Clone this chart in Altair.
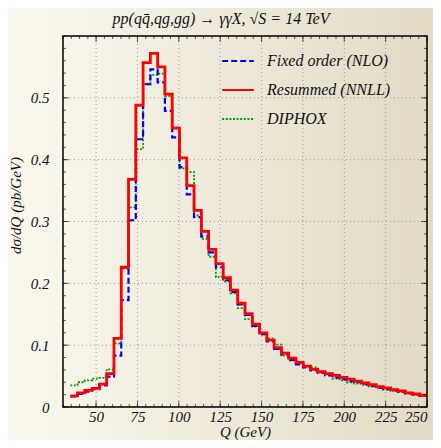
import altair as alt
import pandas as pd

FONT = "Liberation Serif"

# ---- data ----
q_edges = [34.4, 38.8, 43.2, 47.6, 52.0, 56.4, 60.8, 65.2, 69.6, 74.0,
           78.4, 82.8, 87.2, 91.6, 96.0, 100.4, 104.8, 109.2, 113.6, 118.0,
           122.4, 126.8, 131.2, 135.6, 140.0, 144.4, 148.8, 153.2, 157.6, 162.0,
           166.4, 170.8, 175.2, 179.6, 184.0, 188.4, 192.8, 197.2, 201.6, 206.0,
           210.4, 214.8, 219.2, 223.6, 228.0, 232.4, 236.8, 241.2, 245.6, 250.0]

nlo = [0.017, 0.021, 0.025, 0.029, 0.035, 0.049, 0.083, 0.173, 0.302, 0.433,
       0.522, 0.546, 0.525, 0.479, 0.436, 0.388, 0.344, 0.307, 0.276, 0.250,
       0.226, 0.205, 0.186, 0.166, 0.149, 0.131, 0.118, 0.106, 0.094, 0.085,
       0.076, 0.069, 0.064, 0.059, 0.055, 0.051, 0.048, 0.045, 0.042, 0.040,
       0.037, 0.034, 0.031, 0.029, 0.027, 0.025, 0.022, 0.020, 0.018]

nnll = [0.018, 0.023, 0.027, 0.030, 0.037, 0.054, 0.111, 0.226, 0.368, 0.488,
        0.557, 0.572, 0.550, 0.506, 0.451, 0.403, 0.358, 0.318, 0.284, 0.255,
        0.232, 0.209, 0.189, 0.168, 0.151, 0.134, 0.120, 0.108, 0.096, 0.087,
        0.079, 0.072, 0.066, 0.061, 0.057, 0.054, 0.051, 0.048, 0.045, 0.042,
        0.039, 0.036, 0.033, 0.031, 0.028, 0.026, 0.023, 0.021, 0.019]

diphox = [0.035, 0.040, 0.043, 0.046, 0.047, 0.061, 0.103, 0.224, 0.323, 0.417,
          0.523, 0.537, 0.539, 0.503, 0.452, 0.386, 0.380, 0.310, 0.272, 0.243,
          0.210, 0.203, 0.184, 0.160, 0.142, 0.130, 0.117, 0.111, 0.101, 0.083,
          0.075, 0.072, 0.066, 0.064, 0.057, 0.053, 0.046, 0.043, 0.040, 0.038,
          0.036, 0.033, 0.031, 0.028, 0.026, 0.024, 0.022, 0.020, 0.018]

series_names = ["Fixed order (NLO)", "Resummed (NNLL)", "DIPHOX"]
series_colors = ["#0000ff", "#ff0000", "#00a000"]
series_dash = [[6, 3], [1, 0], [2, 1.6]]

x_major = [50, 75, 100, 125, 150, 175, 200, 225, 250]
y_major = [0, 0.1, 0.2, 0.3, 0.4, 0.5]
x_minor = list(range(30, 251, 5))
y_minor = [round(0.02 * i, 2) for i in range(31)]

rows = []
for name, vals in zip(series_names, [nlo, nnll, diphox]):
    for i, v in enumerate(vals):
        rows.append({"Q": q_edges[i], "val": v, "series": name})
    rows.append({"Q": q_edges[len(vals)], "val": vals[-1], "series": name})
df = pd.DataFrame(rows)

xs = alt.Scale(domain=[30, 250], nice=False, zero=False)
ys = alt.Scale(domain=[0, 0.6], nice=False, zero=False)

x_axis = alt.Axis(values=x_major, title="Q (GeV)", grid=False, ticks=False, domain=False,
                  labelFont=FONT, labelFontStyle="italic", labelFontSize=15, labelColor="#111",
                  labelPadding=2, labelFlush=True, labelOverlap=False,
                  titleFont=FONT, titleFontStyle="italic", titleFontSize=15,
                  titleFontWeight="normal", titleColor="#111", titleY=29,
                  titleBaseline="alphabetic", zindex=1)
y_axis = alt.Axis(values=y_major, title="dσ/dQ (pb/GeV)", grid=False, ticks=False, domain=False,
                  labelExpr="datum.value == 0 ? '0' : format(datum.value, '.1f')",
                  labelFont=FONT, labelFontStyle="italic", labelFontSize=15, labelColor="#111",
                  labelPadding=14,
                  titleFont=FONT, titleFontStyle="italic", titleFontSize=15,
                  titleFontWeight="normal", titleColor="#111", titleX=-40, titleY=169, zindex=1)

leg = alt.Legend(title=None, orient="none", legendX=158, legendY=8, symbolType="stroke",
                 symbolSize=1000, symbolStrokeWidth=2, labelFont=FONT, labelFontStyle="italic",
                 labelFontSize=16, labelColor="#111", labelOffset=12, rowPadding=4, labelLimit=300,
                 zindex=1)

color_enc = alt.Color("series:N", scale=alt.Scale(domain=series_names, range=series_colors), legend=leg)
dash_enc = alt.StrokeDash("series:N", scale=alt.Scale(domain=series_names, range=series_dash), legend=leg)


def X(field):
    return alt.X(field, scale=xs, axis=x_axis)


def Y(field):
    return alt.Y(field, scale=ys, axis=y_axis)


def line_layer(name, width):
    return alt.Chart(df).transform_filter(alt.datum.series == name).mark_line(
        interpolate="step-after", strokeWidth=width
    ).encode(x=X("Q:Q"), y=Y("val:Q"), color=color_enc, strokeDash=dash_enc)


one = pd.DataFrame({"k": [0]})
# decorative page background with a light horizontal gradient (pixel extent of the whole figure)
bg = alt.Chart(one).mark_rect(
    fill=alt.LinearGradient(gradient="linear",
                            stops=[alt.GradientStop(color="#faf8ee", offset=0),
                                   alt.GradientStop(color="#e2dac5", offset=1)],
                            x1=0, x2=1, y1=0, y2=0)
).encode(x=alt.value(-55), x2=alt.value(370), y=alt.value(-28), y2=alt.value(404))

grid_x = alt.Chart(pd.DataFrame({"Q": x_major})).mark_rule(
    strokeDash=[1, 3], color="#9a9a9a", strokeWidth=1
).encode(x=X("Q:Q"))
grid_y = alt.Chart(pd.DataFrame({"val": y_major})).mark_rule(
    strokeDash=[1, 3], color="#9a9a9a", strokeWidth=1
).encode(y=Y("val:Q"))

xt_minor = pd.DataFrame({"Q": x_minor})
xt_major = pd.DataFrame({"Q": x_major})
yt_minor = pd.DataFrame({"val": y_minor})
yt_major = pd.DataFrame({"val": y_major})


def xticks(data, size, at, sign):
    return alt.Chart(data).mark_tick(orient="vertical", size=size, thickness=1, color="#222",
                                     yOffset=sign * size / 2).encode(
        x=X("Q:Q"), y=alt.YDatum(at, scale=ys, axis=y_axis))


def yticks(data, size, at, sign):
    return alt.Chart(data).mark_tick(orient="horizontal", size=size, thickness=1, color="#222",
                                     xOffset=sign * size / 2).encode(
        y=Y("val:Q"), x=alt.XDatum(at, scale=xs, axis=x_axis))


frame = alt.Chart(one).mark_rect(filled=False, stroke="black", strokeWidth=1.5).encode(
    x=alt.XDatum(30, scale=xs, axis=x_axis), x2=alt.X2Datum(250),
    y=alt.YDatum(0, scale=ys, axis=y_axis), y2=alt.Y2Datum(0.6))

chart = alt.layer(
    bg, grid_x, grid_y,
    line_layer("DIPHOX", 1.8),
    line_layer("Fixed order (NLO)", 2.2),
    line_layer("Resummed (NNLL)", 2.8),
    xticks(xt_minor, 3, 0, -1), xticks(xt_major, 6, 0, -1),
    xticks(xt_minor, 3, 0.6, 1), xticks(xt_major, 6, 0.6, 1),
    yticks(yt_minor, 3, 30, 1), yticks(yt_major, 6, 30, 1),
    yticks(yt_minor, 3, 250, -1), yticks(yt_major, 6, 250, -1),
    frame,
).properties(
    width=364, height=371,
    title=alt.TitleParams(text="pp(qq̄,qg,gg) → γγX, √S = 14 TeV", font=FONT, fontStyle="italic",
                          fontSize=16, fontWeight="normal", color="#111", anchor="middle",
                          frame="group", dx=-24, offset=-19, zindex=1),
    autosize=alt.AutoSizeParams(type="none"),
    padding={"left": 55, "top": 28, "right": 6, "bottom": 33},
    background="#eeeadb",
).configure_view(stroke=None)

chart.save("out.html", embed_options={"renderer": "svg", "actions": False})
